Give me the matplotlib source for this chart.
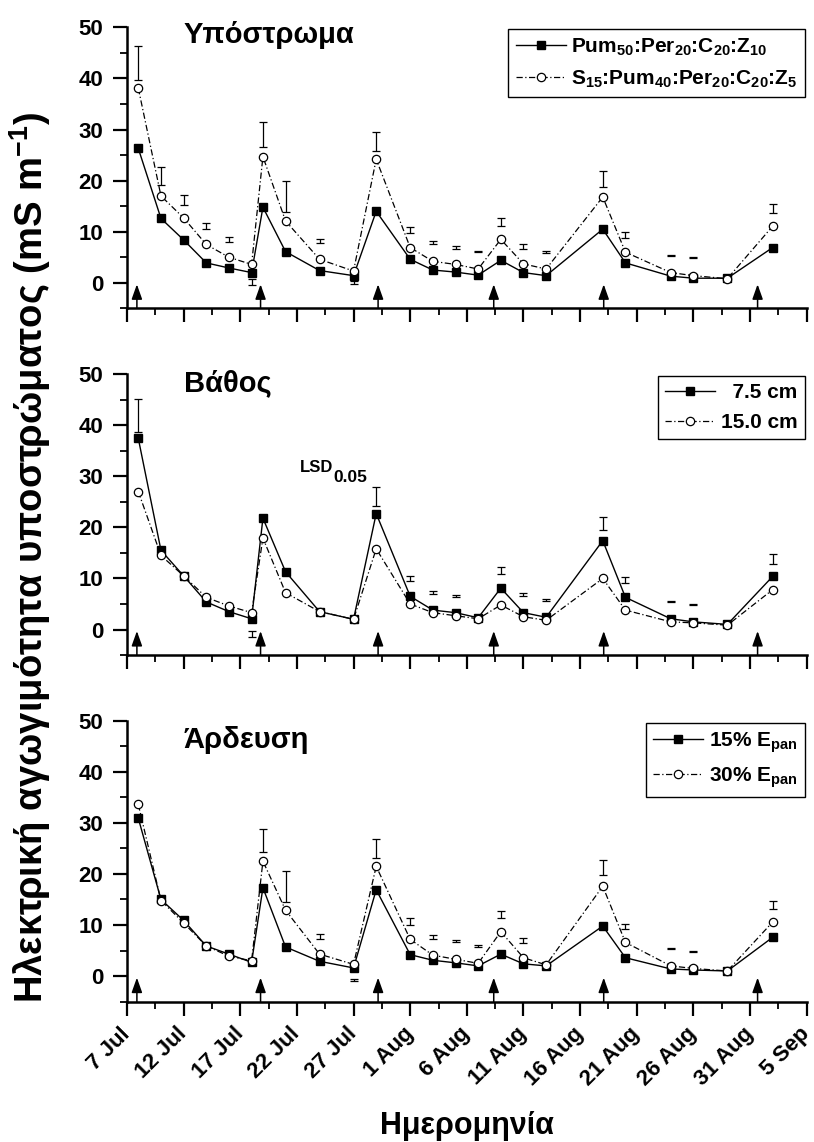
import numpy as np
import matplotlib
matplotlib.use('Agg')
import matplotlib.pyplot as plt
import matplotlib.dates as mdates
from matplotlib.ticker import MultipleLocator

plt.rcParams['font.family'] = ['Liberation Sans', 'DejaVu Sans']
plt.rcParams['font.weight'] = 'bold'
plt.rcParams['mathtext.fontset'] = 'custom'
plt.rcParams['mathtext.rm'] = 'Liberation Sans:bold'
plt.rcParams['mathtext.bf'] = 'Liberation Sans:bold'
plt.rcParams['mathtext.it'] = 'Liberation Sans:bold'

# sampling days, counted from 7 Jul
start = np.datetime64('2008-07-07')
days = [1, 3, 5, 7, 9, 11, 12, 14, 17, 20, 22, 25, 27, 29, 31, 33, 35, 37,
        42, 44, 48, 50, 53, 57]
arrow_days = [0.9, 11.8, 22.2, 32.4, 42.1, 55.7]   # irrigation events

# panel 1 - substrate
sub_a = [26.3, 12.6, 8.4, 3.9, 2.9, 2.0, 14.8, 6.1, 2.4, 1.4, 14.0, 4.6, 2.5,
         2.1, 1.5, 4.4, 2.0, 1.4, 10.5, 3.9, 1.3, 0.9, 0.9, 6.9]
sub_b = [38.1, 17.0, 12.7, 7.5, 5.0, 3.6, 24.7, 12.1, 4.6, 2.3, 24.2, 6.9, 4.2,
         3.6, 2.7, 8.5, 3.7, 2.7, 16.8, 6.0, 2.0, 1.4, 0.8, 11.1]
sub_lo = [39.7, 19.2, 15.2, 10.5, 8.0, -0.5, 26.6, 13.9, 7.7, -0.2, 25.8, 9.7,
          7.5, 6.7, 6.0, 11.2, 6.7, 5.9, 18.8, 8.8, 5.2, 4.9, np.nan, 13.7]
sub_hi = [46.3, 22.7, 17.1, 11.8, 8.9, 0.65, 31.4, 19.9, 8.5, 0.4, 29.5, 10.9,
          8.2, 7.2, 6.3, 12.6, 7.5, 6.2, 21.9, 10.0, 5.5, 5.1, np.nan, 15.5]

# panel 2 - depth
dep_a = [37.4, 15.5, 10.5, 5.4, 3.5, 2.1, 21.8, 11.3, 3.5, 2.0, 22.7, 6.5, 3.8,
         3.3, 2.3, 8.1, 3.3, 2.4, 17.4, 6.3, 2.1, 1.5, 1.0, 10.4]
dep_b = [27.0, 14.5, 10.5, 6.3, 4.6, 3.3, 17.9, 7.2, 3.5, 2.0, 15.8, 5.0, 3.3,
         2.7, 2.1, 4.8, 2.5, 1.8, 10.0, 3.8, 1.5, 1.3, 0.85, 7.8]
dep_lo = [38.7, np.nan, np.nan, np.nan, np.nan, -1.4, np.nan, np.nan, np.nan,
          np.nan, 24.2, 9.4, 7.0, 6.3, np.nan, 10.9, 6.5, 5.5, 19.4, 9.2, 5.3,
          4.8, np.nan, 12.9]
dep_hi = [45.2, np.nan, np.nan, np.nan, np.nan, -0.3, np.nan, np.nan, np.nan,
          np.nan, 27.9, 10.5, 7.6, 6.7, np.nan, 12.2, 7.2, 6.0, 22.1, 10.3, 5.5,
          5.0, np.nan, 14.8]

# panel 3 - irrigation
irr_a = [30.9, 15.0, 10.9, 5.9, 4.3, 2.7, 17.3, 5.7, 2.9, 1.6, 16.9, 4.2, 3.1,
         2.6, 2.0, 4.3, 2.4, 2.0, 9.8, 3.6, 1.4, 1.2, 1.0, 7.6]
irr_b = [33.6, 14.8, 10.4, 5.9, 3.9, 3.0, 22.5, 12.9, 4.3, 2.3, 21.5, 7.2, 4.1,
         3.3, 2.5, 8.7, 3.6, 2.2, 17.6, 6.6, 2.0, 1.5, 1.0, 10.6]
irr_lo = [np.nan, np.nan, np.nan, np.nan, np.nan, np.nan, 24.2, 14.5, 7.2, -1.0,
          23.2, 10.1, 7.2, 6.6, 5.7, 11.4, 6.5, np.nan, 19.7, 9.3, 5.3, 4.8,
          np.nan, 13.2]
irr_hi = [np.nan, np.nan, np.nan, np.nan, np.nan, np.nan, 28.8, 20.6, 8.2, -0.6,
          26.9, 11.4, 8.0, 7.0, 6.05, 12.8, 7.4, np.nan, 22.7, 10.2, 5.5, 5.0,
          np.nan, 14.8]

panels = [
    ('Υπόστρωμα', sub_a, sub_b, sub_lo, sub_hi,
     ['Pum$_{50}$:Per$_{20}$:C$_{20}$:Z$_{10}$',
      'S$_{15}$:Pum$_{40}$:Per$_{20}$:C$_{20}$:Z$_{5}$'], 48.5),
    ('Βάθος', dep_a, dep_b, dep_lo, dep_hi, ['  7.5 cm', '15.0 cm'], 48.3),
    ('Άρδευση', irr_a, irr_b, irr_lo, irr_hi,
     ['15% E$_{\\mathbf{pan}}$', '30% E$_{\\mathbf{pan}}$'], 46.3),
]

x = mdates.date2num(start + np.array(days) * np.timedelta64(1, 'D'))
xa = mdates.date2num(start + (np.array(arrow_days) * 24).astype(int) * np.timedelta64(1, 'h'))
x0 = mdates.date2num(start)
major = x0 + np.arange(0, 61, 5)
minor = x0 + np.arange(2.5, 60, 5)

fig = plt.figure(figsize=(8.14, 11.42), dpi=100)
bottoms = [0.730, 0.4264, 0.1229]
dash = (0, (5, 2, 1, 2))

for i, (title, a, b, lo, hi, labels, ty) in enumerate(panels):
    ax = fig.add_axes([0.156, bottoms[i], 0.835, 0.246])
    lo = np.array(lo)
    hi = np.array(hi)
    ax.errorbar(x, (lo + hi) / 2, yerr=(hi - lo) / 2, fmt='none', ecolor='black',
                elinewidth=0.9, capsize=3, capthick=0.9)
    ax.plot(x, a, '-', color='black', lw=1, marker='s', ms=5.5,
            mfc='black', mec='black', label=labels[0], zorder=3)
    ax.plot(x, b, color='black', lw=0.9, linestyle=dash, marker='o', ms=6,
            mfc='white', mec='black', mew=0.9, label=labels[1], zorder=4)
    for xv in xa:
        ax.annotate('', xy=(xv, -0.3), xytext=(xv, -5),
                    arrowprops=dict(arrowstyle='-|>,head_length=0.9,head_width=0.32',
                                    color='black', lw=1.1, shrinkA=0, shrinkB=0))
    ax.set_xlim(x0, x0 + 60)
    ax.set_ylim(-5, 50)
    ax.yaxis.set_major_locator(MultipleLocator(10))
    ax.yaxis.set_minor_locator(MultipleLocator(5))
    ax.set_xticks(major)
    ax.set_xticks(minor, minor=True)
    ax.xaxis.set_major_formatter(mdates.DateFormatter('%-d %b'))
    for s in ['top', 'right']:
        ax.spines[s].set_visible(False)
    for s in ['left', 'bottom']:
        ax.spines[s].set_linewidth(1.8)
    ax.tick_params(axis='both', which='major', direction='out', length=10, width=1.6,
                   labelsize=16)
    ax.tick_params(axis='y', which='major', pad=7)
    ax.tick_params(axis='both', which='minor', direction='out', length=5, width=1.3)
    if i < 2:
        ax.tick_params(axis='x', labelbottom=False)
    else:
        ax.tick_params(axis='x', which='major', pad=11)
        for lab in ax.get_xticklabels():
            lab.set_rotation(45)
            lab.set_ha('right')
            lab.set_va('center')
            lab.set_rotation_mode('anchor')
            lab.set_fontsize(16)
    ax.text(x0 + 5, ty, title, fontsize=21, va='center', ha='left')
    leg = ax.legend(loc='upper right', fontsize=15, handlelength=2.4, fancybox=False,
                    edgecolor='black', framealpha=1, borderaxespad=0.1,
                    handletextpad=0.25, borderpad=0.35, labelspacing=0.5)
    leg.get_frame().set_linewidth(1)
    if i == 1:
        ax.text(x0 + 15.3, 30.8, 'LSD', fontsize=12, ha='left', va='baseline')
        ax.annotate('0.05', xy=(x0 + 15.3, 30.8), xytext=(23.5, -7),
                    textcoords='offset points', fontsize=12.5, ha='left', va='baseline')

fig.text(0.037, 0.512, 'Ηλεκτρική αγωγιμότητα υποστρώματος (mS m$^{-1}$)',
         rotation=90, ha='center', va='center', fontsize=27.5)
fig.text(0.574, 0.014, 'Ημερομηνία', ha='center', va='center', fontsize=22)

fig.savefig('out.png', dpi=100)
